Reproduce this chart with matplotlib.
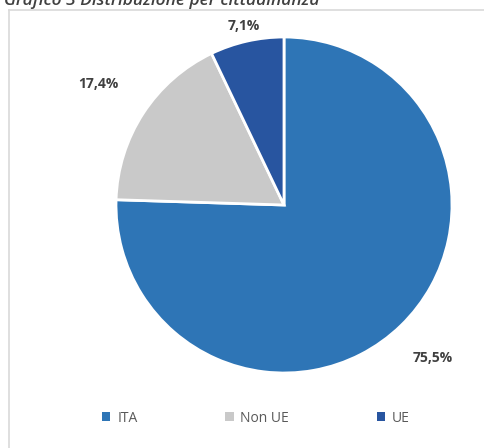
import numpy as np
import matplotlib.pyplot as plt
from matplotlib.patches import Patch
from matplotlib.lines import Line2D

# cittadinanza: quote percentuali
categorie = ['ITA', 'Non UE', 'UE']
quote = [75.5, 17.4, 7.1]
etichette = ['75,5%', '17,4%', '7,1%']
colori = ['#2E75B6', '#C9C9C9', '#2855A0']
dist_etichette = [1.27, 1.32, 1.09]

W, H = 485, 448
fig = plt.figure(figsize=(W / 100, H / 100), dpi=100)
fig.patch.set_facecolor('white')

# cornice dell'area grafico
fig.add_artist(Line2D([9.5 / W, 9.5 / W], [0, 1 - 10 / H], color='#D9D9D9', lw=1.2))
fig.add_artist(Line2D([9.5 / W, 1], [1 - 10 / H, 1 - 10 / H], color='#D9D9D9', lw=1.2))

# titolo (tagliato in alto)
fig.text(4 / W, 1 - 5 / H, 'Grafico 3 Distribuzione per cittadinanza', fontsize=12.5,
         style='italic', fontweight='semibold', color='#404040', family='Open Sans',
         va='baseline')

# torta
cx, cy, r = 284, 205, 168
ax = fig.add_axes([(cx - r) / W, (H - cy - r) / H, 2 * r / W, 2 * r / H])
wedges, _ = ax.pie(quote, colors=colori, startangle=90, counterclock=False,
                   wedgeprops=dict(edgecolor='white', linewidth=2))
ax.set_xlim(-1, 1)
ax.set_ylim(-1, 1)
ax.set_aspect('equal')
ax.axis('off')

for w, testo, d in zip(wedges, etichette, dist_etichette):
    ang = np.deg2rad((w.theta1 + w.theta2) / 2)
    ax.text(d * np.cos(ang), d * np.sin(ang), testo, ha='center', va='center',
            fontsize=10, fontweight='bold', color='#404040', family='Open Sans')

# legenda
maniglie = [Patch(facecolor=c, edgecolor='none') for c in colori]
fig.legend(maniglie, categorie, loc='center', bbox_to_anchor=(256 / W, 1 - 418 / H),
           ncol=3, frameon=False, handlelength=0.6, handleheight=0.6,
           handletextpad=0.5, columnspacing=6.3,
           prop=dict(family='Open Sans', size=10), labelcolor='#595959')

fig.savefig('out.png', dpi=100)
